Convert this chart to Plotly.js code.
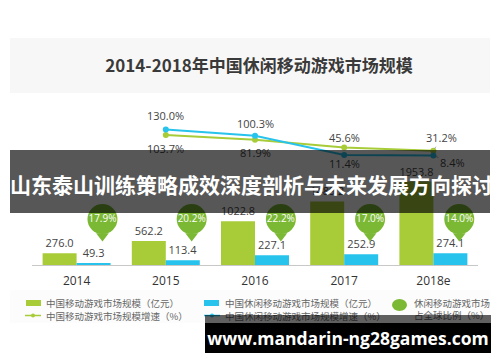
<!DOCTYPE html>
<html>
<head>
<meta charset="utf-8">
<script src="https://cdn.plot.ly/plotly-3.0.1.min.js"></script>
<style>
  html, body { margin: 0; padding: 0; background: #ffffff; }
  #wrap { position: relative; width: 500px; height: 362px; overflow: hidden; }
  #chart { position: absolute; left: 0; top: 0; width: 500px; height: 362px; }
  .ov { position: absolute; color: #ffffff; font-weight: bold; text-align: center; white-space: nowrap; }
  #banner { left: 10px; top: 150px; width: 480px; height: 63px; background: rgba(0,0,0,0.66);
            font-family: "Noto Sans CJK SC", sans-serif; font-size: 21px; line-height: 68px; }
  #strip { left: 205px; top: 315px; width: 286px; height: 8px; background: rgba(0,0,0,0.62); }
  #site { left: 205px; top: 323px; width: 286px; height: 30px; background: #000000;
          font-family: "Open Sans", sans-serif; font-size: 17.5px; line-height: 30px; }
</style>
</head>
<body>
<div id="wrap">
  <div id="chart"></div>
  <div id="banner" class="ov">山东泰山训练策略成效深度剖析与未来发展方向探讨</div>
  <div id="strip" class="ov"></div>
  <div id="site" class="ov">www.mandarin-ng28games.com</div>
</div>
<script>
// ---------------- data ----------------
const chartTitle = '2014-2018年中国休闲移动游戏市场规模';
const categories = ['2014', '2015', '2016', '2017', '2018e'];
const mobileMarket = [276.0, 562.2, 1022.8, 1489.2, 1953.8];      // 中国移动游戏市场规模（亿元）
const casualMarket = [49.3, 113.4, 227.1, 252.9, 274.1];          // 中国休闲移动游戏市场规模（亿元）
const mobileGrowth = [null, 103.7, 81.9, 45.6, 31.2];             // 中国移动游戏市场规模增速（%）
const casualGrowth = [null, 130.0, 100.3, 11.4, 8.4];             // 中国休闲移动游戏市场规模增速（%）
const casualGlobalShare = [17.9, 20.2, 22.2, 17.0, 14.0];         // 休闲移动游戏市场占全球比例（%）
const legendMobileBar = '中国移动游戏市场规模（亿元）';
const legendCasualBar = '中国休闲移动游戏市场规模（亿元）';
const legendMobileLine = '中国移动游戏市场规模增速（%）';
const legendCasualLine = '中国休闲移动游戏市场规模增速（%）';
const legendShare = ['休闲移动游戏市场', '占全球比例（%）'];

// ---------------- style ----------------
const GREEN = '#a7cc38';
const BLUE = '#27c3ec';
const BUBBLE = '#7bb834';
const TXT = '#444444';
const FONT = '"Open Sans", "Noto Sans CJK SC", sans-serif';
const CJK = '"Noto Sans CJK SC", sans-serif';

// plot area in pixels
const L = 32, R = 478, T = 95, B = 265;
const px2x = p => (p - L) / (R - L);
const px2y = p => (B - p) / (B - T);

const idx = categories.map((_, i) => i);
const bubbleOffset = 0.29;

const traces = [
  {
    type: 'bar', x: idx, y: mobileMarket, name: legendMobileBar,
    marker: { color: GREEN }, offsetgroup: 'a',
    text: mobileMarket.map(v => v.toFixed(1)), textposition: 'outside',
    textfont: { family: FONT, size: 11, color: TXT }, cliponaxis: false,
    hoverinfo: 'skip'
  },
  {
    type: 'bar', x: idx, y: casualMarket, name: legendCasualBar,
    marker: { color: BLUE }, offsetgroup: 'b',
    text: casualMarket.map(v => v.toFixed(1)), textposition: 'outside',
    textfont: { family: FONT, size: 11, color: TXT }, cliponaxis: false,
    hoverinfo: 'skip'
  },
  {
    type: 'scatter', mode: 'lines+markers', x: idx, y: mobileGrowth, yaxis: 'y2',
    line: { color: GREEN, width: 2 }, marker: { color: GREEN, size: 6 },
    name: legendMobileLine, cliponaxis: false, hoverinfo: 'skip'
  },
  {
    type: 'scatter', mode: 'lines+markers', x: idx, y: casualGrowth, yaxis: 'y2',
    line: { color: BLUE, width: 2 }, marker: { color: BLUE, size: 6 },
    name: legendCasualLine, cliponaxis: false, hoverinfo: 'skip'
  },
  // bubble pointers
  {
    type: 'scatter', mode: 'markers', x: idx.map(i => i + bubbleOffset),
    y: casualGlobalShare.map(() => 0.17), yaxis: 'y3',
    marker: { symbol: 'triangle-down', size: 11, color: BUBBLE, line: { width: 0 } },
    cliponaxis: false, hoverinfo: 'skip'
  },
  // bubbles
  {
    type: 'scatter', mode: 'markers+text', x: idx.map(i => i + bubbleOffset),
    y: casualGlobalShare.map(() => 0.27), yaxis: 'y3',
    marker: { symbol: 'circle', size: 30, color: BUBBLE, line: { width: 0 } },
    text: casualGlobalShare.map(v => v.toFixed(1) + '%'), textposition: 'middle center',
    textfont: { family: FONT, size: 10, color: '#ffffff' },
    cliponaxis: false, hoverinfo: 'skip'
  }
];

// line value labels
const annotations = [];
const casualShift = [null, 14, 12, -9, null];
const mobileShift = [null, -13, -13, 10, null];
categories.forEach((c, i) => {
  if (casualGrowth[i] !== null) {
    if (casualShift[i] !== null) {
      annotations.push({ x: i, y: casualGrowth[i], xref: 'x', yref: 'y2', yshift: casualShift[i],
        text: casualGrowth[i].toFixed(1) + '%', showarrow: false,
        font: { family: FONT, size: 11, color: TXT } });
    } else {
      annotations.push({ x: i, y: casualGrowth[i], xref: 'x', yref: 'y2',
        text: casualGrowth[i].toFixed(1) + '%', showarrow: true, arrowhead: 0, arrowwidth: 0.8,
        arrowcolor: '#999', ax: 19, ay: 7, standoff: 2,
        font: { family: FONT, size: 11, color: TXT } });
    }
  }
  if (mobileGrowth[i] !== null) {
    if (mobileShift[i] !== null) {
      annotations.push({ x: i, y: mobileGrowth[i], xref: 'x', yref: 'y2', yshift: mobileShift[i],
        text: mobileGrowth[i].toFixed(1) + '%', showarrow: false,
        font: { family: FONT, size: 11, color: TXT } });
    } else {
      annotations.push({ x: i, y: mobileGrowth[i], xref: 'x', yref: 'y2',
        text: mobileGrowth[i].toFixed(1) + '%', showarrow: true, arrowhead: 0, arrowwidth: 0.8,
        arrowcolor: '#999', ax: 8, ay: -13, standoff: 2,
        font: { family: FONT, size: 11, color: TXT } });
    }
  }
});

// manual legend
const shapes = [
  // title band
  { type: 'rect', xref: 'paper', yref: 'paper', x0: px2x(10), x1: px2x(490), y0: px2y(93), y1: px2y(38),
    fillcolor: '#f7f7f7', line: { width: 0 }, layer: 'below' },
  // legend band
  { type: 'rect', xref: 'paper', yref: 'paper', x0: px2x(10), x1: px2x(490), y0: px2y(323), y1: px2y(290),
    fillcolor: '#fcfcfc', line: { width: 0 }, layer: 'below' },
  // green bar key
  { type: 'rect', xref: 'paper', yref: 'paper', x0: px2x(26), x1: px2x(41), y0: px2y(306), y1: px2y(300),
    fillcolor: GREEN, line: { width: 0 } },
  // blue bar key
  { type: 'rect', xref: 'paper', yref: 'paper', x0: px2x(204), x1: px2x(219), y0: px2y(306), y1: px2y(300),
    fillcolor: BLUE, line: { width: 0 } },
  // green line key
  { type: 'line', xref: 'paper', yref: 'paper', x0: px2x(25), x1: px2x(41), y0: px2y(315.5), y1: px2y(315.5),
    line: { color: GREEN, width: 1.5 } },
  { type: 'circle', xref: 'paper', yref: 'paper', x0: px2x(31), x1: px2x(35), y0: px2y(317.5), y1: px2y(313.5),
    fillcolor: GREEN, line: { width: 0 } },
  // blue line key
  { type: 'line', xref: 'paper', yref: 'paper', x0: px2x(204), x1: px2x(220), y0: px2y(315.5), y1: px2y(315.5),
    line: { color: BLUE, width: 1.5 } },
  { type: 'circle', xref: 'paper', yref: 'paper', x0: px2x(210), x1: px2x(214), y0: px2y(317.5), y1: px2y(313.5),
    fillcolor: BLUE, line: { width: 0 } },
  // bubble key
  { type: 'circle', xref: 'paper', yref: 'paper', x0: px2x(392), x1: px2x(407), y0: px2y(311), y1: px2y(299),
    fillcolor: BUBBLE, line: { width: 0 } }
];
const legFont = { family: CJK, size: 9.5, color: '#666666' };
const legItems = [
  [legendMobileBar, 44, 303], [legendCasualBar, 223, 303],
  [legendMobileLine, 44, 315.5], [legendCasualLine, 223, 315.5],
  [legendShare.join('<br>'), 412, 308.7]
];
legItems.forEach(([t, x, y]) => {
  annotations.push({ xref: 'paper', yref: 'paper', x: px2x(x), y: px2y(y), xanchor: 'left', yanchor: 'middle',
    align: 'left', text: t, showarrow: false, font: legFont });
});

const layout = {
  width: 500, height: 362,
  margin: { l: L, r: 500 - R, t: T, b: 362 - B, pad: 0 },
  paper_bgcolor: '#ffffff', plot_bgcolor: 'rgba(0,0,0,0)',
  showlegend: false,
  barmode: 'group', bargap: 0.238, bargroupgap: 0,
  title: { text: '<b>' + chartTitle + '</b>', x: 259 / 500, xanchor: 'center', y: 1 - 66 / 362, yanchor: 'middle',
           yref: 'container', font: { family: CJK, size: 17, color: '#3a3a3a' } },
  xaxis: { type: 'linear', range: [-0.5, 4.5], tickvals: idx, ticktext: categories,
           showline: true, linecolor: '#c8c8c8', linewidth: 1, ticks: '', showgrid: false, zeroline: false,
           tickfont: { family: FONT, size: 12, color: '#333333' }, ticklabelstandoff: 5, fixedrange: true },
  yaxis: { range: [0, 3980], visible: false, fixedrange: true },
  yaxis2: { range: [-500, 290], overlaying: 'y', visible: false, fixedrange: true },
  yaxis3: { range: [0, 1], overlaying: 'y', visible: false, fixedrange: true },
  shapes: shapes,
  annotations: annotations,
  font: { family: FONT }
};

Plotly.newPlot('chart', traces, layout, { displayModeBar: false, staticPlot: true });
</script>
</body>
</html>
